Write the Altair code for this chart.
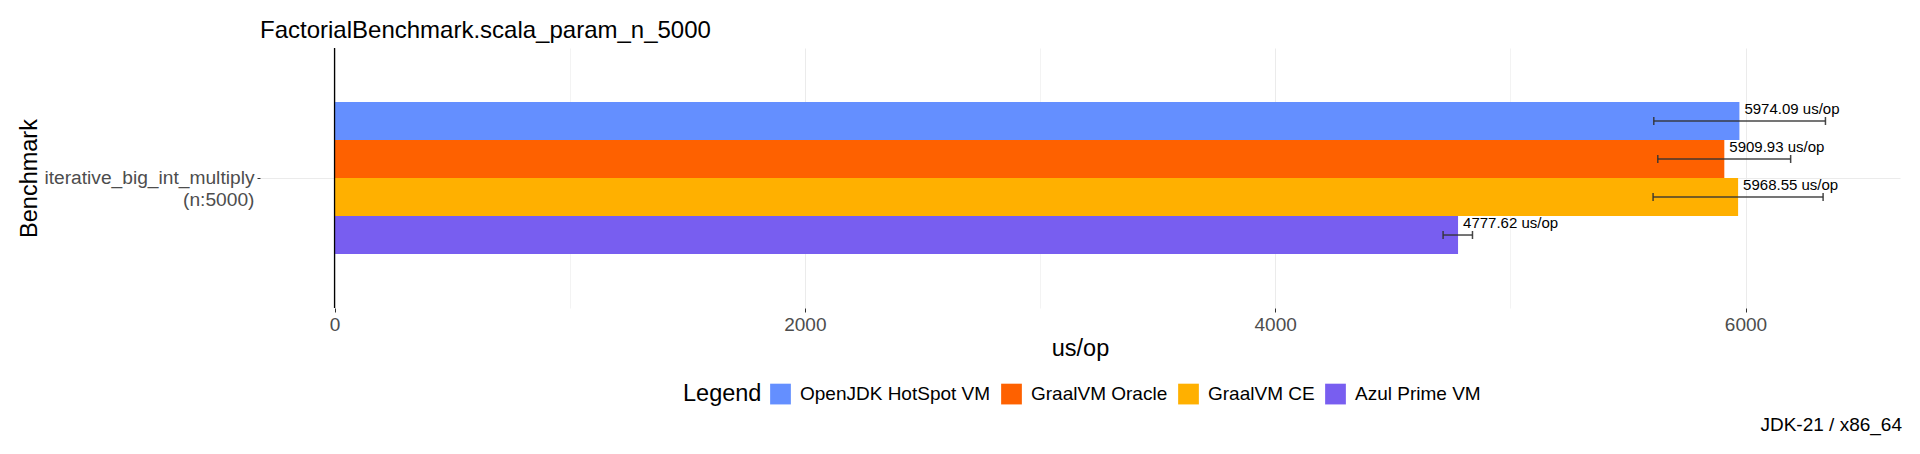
import altair as alt
import pandas as pd

title_text = "FactorialBenchmark.scala_param_n_5000"
caption_text = "JDK-21 / x86_64"
benchmark = "iterative_big_int_multiply\n(n:5000)"
vms = ["OpenJDK HotSpot VM", "GraalVM Oracle", "GraalVM CE", "Azul Prime VM"]
colors = ["#648FFF", "#FE6100", "#FFB000", "#785EF0"]
scores = [5974.09, 5909.93, 5968.55, 4777.62]
err_lo = [5610, 5627, 5607, 4714]
err_hi = [6340, 6192, 6330, 4839]
x_ticks = [0, 1000, 2000, 3000, 4000, 5000, 6000]

df = pd.DataFrame({
    "benchmark": [benchmark] * len(vms),
    "vm": vms,
    "score": scores,
    "lo": err_lo,
    "hi": err_hi,
    "label": [f"{s:.2f} us/op" for s in scores],
})

FONT = "Liberation Sans"
W, H = 1640, 260

xscale = alt.Scale(domain=[-317, 6657], nice=False, zero=False)
xaxis = alt.Axis(
    values=x_ticks,
    labelExpr="datum.value % 2000 === 0 ? datum.label : ''",
    format="d",
    grid=True,
    gridColor={"condition": {"test": "datum.value % 2000 !== 0", "value": "#F3F3F3"}, "value": "#EBEBEB"},
    gridWidth=1,
    tickOpacity={"condition": {"test": "datum.value % 2000 !== 0", "value": 0}, "value": 1},
    tickSize=4, tickColor="#333333", tickWidth=1,
    domain=False,
    labelFontSize=19, labelColor="#4D4D4D", labelFont=FONT, labelPadding=3,
    titleFontSize=23.5, titleColor="black", titleFont=FONT, titleFontWeight="normal",
    titleBaseline="alphabetic", titleY=47.5,
)


def xq(field):
    return alt.X(f"{field}:Q", title="us/op", scale=xscale, axis=xaxis)


yscale = alt.Scale(paddingInner=0, paddingOuter=0.355)
yaxis = alt.Axis(
    labelExpr="split(datum.label, '\\n')",
    labelFontSize=19.2, labelColor="#4D4D4D", labelFont=FONT, labelLineHeight=21.5,
    labelPadding=3, labelAlign="right", labelBaseline="middle", labelLimit=500,
    tickSize=3, tickColor="#333333", domain=False,
    grid=True, gridColor="#EBEBEB", gridWidth=1,
    titleFontSize=23.5, titleColor="black", titleFont=FONT, titleFontWeight="normal",
    titleAngle=270, titleAlign="center", titleBaseline="alphabetic",
    titleX=-223.5, titleY=130,
)
Y = alt.Y("benchmark:N", title="Benchmark", scale=yscale, axis=yaxis)
YO = alt.YOffset("vm:N", sort=vms, scale=alt.Scale(paddingInner=0, paddingOuter=0))

base = alt.Chart(df)

bars = base.mark_bar().encode(
    x=alt.X("score:Q", title="us/op", scale=xscale, axis=xaxis, stack=None),
    x2=alt.X2(datum=0),
    y=Y,
    yOffset=YO,
    color=alt.Color(
        "vm:N", sort=vms,
        scale=alt.Scale(domain=vms, range=colors),
        legend=alt.Legend(
            title="Legend", orient="none", direction="horizontal",
            legendX=423, legendY=335.5, titleOrient="left",
            titleFontSize=23.5, titleFont=FONT, titleColor="black", titleFontWeight="normal",
            titlePadding=8, titleBaseline="middle",
            labelFontSize=19, labelFont=FONT, labelColor="black", labelOffset=9, labelLimit=500,
            symbolType="square", symbolSize=430, symbolStrokeWidth=0, symbolOpacity=1,
            columnPadding=10,
        ),
    ),
)

err = base.mark_rule(color="#333333", strokeWidth=1.5, opacity=0.9).encode(
    x=xq("lo"), x2="hi:Q", y=Y, yOffset=YO
)
cap_lo = base.mark_tick(color="#333333", size=8, thickness=1.5, opacity=0.9).encode(
    x=xq("lo"), y=Y, yOffset=YO
)
cap_hi = base.mark_tick(color="#333333", size=8, thickness=1.5, opacity=0.9).encode(
    x=xq("hi"), y=Y, yOffset=YO
)
labels = base.mark_text(
    align="left", baseline="alphabetic", dx=5, dy=-7, fontSize=15, font=FONT, color="black"
).encode(x=xq("score"), y=Y, yOffset=YO, text="label:N")

zero_line = alt.Chart(pd.DataFrame({"z": [0]})).mark_rule(color="black", strokeWidth=1.3).encode(
    x=xq("z")
)

caption = alt.Chart(pd.DataFrame({"t": [caption_text]})).mark_text(
    align="right", baseline="middle", fontSize=19, font=FONT, color="black"
).encode(x=alt.value(W + 2), y=alt.value(377), text="t:N")

chart = alt.layer(bars, err, cap_lo, cap_hi, labels, zero_line, caption).properties(
    width=W, height=H,
    title=alt.TitleParams(
        text=title_text, anchor="start", frame="group", fontSize=24, font=FONT,
        fontWeight="normal", color="black", baseline="alphabetic", offset=12, dy=27,
    ),
    autosize=alt.AutoSizeParams(type="none"),
    padding={"left": 252, "top": 40, "right": 12, "bottom": 138},
).configure(background="white").configure_view(stroke=None)

chart.save("out.html", embed_options={"renderer": "svg", "actions": False})
